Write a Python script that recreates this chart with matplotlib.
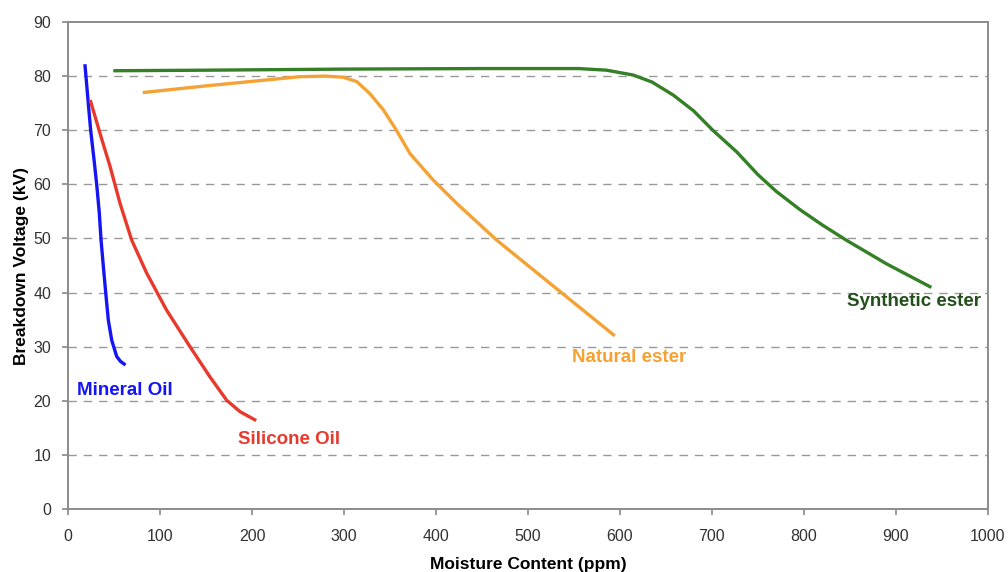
import matplotlib.pyplot as plt

plt.rcParams["font.family"] = ["Liberation Sans", "DejaVu Sans"]

# Moisture content (ppm) vs breakdown voltage (kV)
mineral_x = [18.5, 22, 24.6, 28.3, 31.2, 34, 35.9, 38.4, 41, 43.8, 47.5, 52.9, 57, 61]
mineral_y = [81.9, 75, 70, 64.5, 59.9, 54.7, 49.7, 44.8, 39.9, 34.9, 31.2, 28.2, 27.3, 26.8]

silicone_x = [24.6, 34.8, 45.7, 56.5, 69.2, 85.5, 107, 132.6, 154, 172.5, 187, 203]
silicone_y = [75.3, 69.4, 63.3, 56.5, 49.7, 43.6, 36.8, 30, 24.5, 20.1, 18, 16.5]

natural_x = [83, 150, 216, 252, 280, 299, 313.8, 328, 342.7, 357, 371.7, 397, 422.5, 466, 524, 593]
natural_y = [77, 78.2, 79.3, 79.9, 80, 79.8, 79, 76.8, 73.8, 70, 65.7, 60.8, 56.5, 49.7, 41.7, 32.2]

synthetic_x = [51, 150, 300, 450, 513, 555, 585.5, 614.5, 635, 658, 680, 701, 727, 750, 770,
               796, 820, 846, 890, 937]
synthetic_y = [81, 81.1, 81.3, 81.4, 81.4, 81.4, 81.1, 80.2, 78.9, 76.5, 73.6, 70, 66, 61.8, 58.7,
               55.3, 52.5, 49.7, 45.3, 41.1]

x_ticks = list(range(0, 1001, 100))
y_ticks = list(range(0, 91, 10))

fig = plt.figure(figsize=(10.08, 5.72), dpi=100)
ax = fig.add_axes([0.0675, 0.110, 0.9125, 0.8515])

for level in y_ticks[1:-1]:
    ax.axhline(level, color="#999999", linestyle=(0, (6, 5)), linewidth=1.0, zorder=1)

ax.plot(mineral_x, mineral_y, color="#1414f5", linewidth=2.4, zorder=3, solid_joinstyle="round")
ax.plot(silicone_x, silicone_y, color="#e8392d", linewidth=2.4, zorder=3, solid_joinstyle="round")
ax.plot(natural_x, natural_y, color="#f4a234", linewidth=2.4, zorder=3, solid_joinstyle="round")
ax.plot(synthetic_x, synthetic_y, color="#357f26", linewidth=2.4, zorder=3, solid_joinstyle="round")

label_style = dict(fontsize=13.5, fontweight="bold", va="center", ha="left")
ax.text(9.5, 22, "Mineral Oil", color="#1414f5", **label_style)
ax.text(185, 12.9, "Silicone Oil", color="#e8392d", **label_style)
ax.text(548, 28.1, "Natural ester", color="#f4a234", **label_style)
ax.text(847, 38.3, "Synthetic ester", color="#23501a", **label_style)

ax.set_xlim(0, 1000)
ax.set_ylim(0, 90)
ax.set_xticks(x_ticks)
ax.set_yticks(y_ticks)
ax.tick_params(colors="#888888", labelcolor="#333333", labelsize=11.5, length=4, width=1.2)
ax.tick_params(axis="x", pad=10)
ax.tick_params(axis="y", pad=8)

for spine in ax.spines.values():
    spine.set_color("#8c8c8c")
    spine.set_linewidth(1.4)

ax.set_xlabel("Moisture Content (ppm)", fontsize=12.5, fontweight="bold", labelpad=10)
ax.set_ylabel("Breakdown Voltage (kV)", fontsize=12.5, fontweight="bold", labelpad=3)

fig.savefig("out.png", dpi=100)
